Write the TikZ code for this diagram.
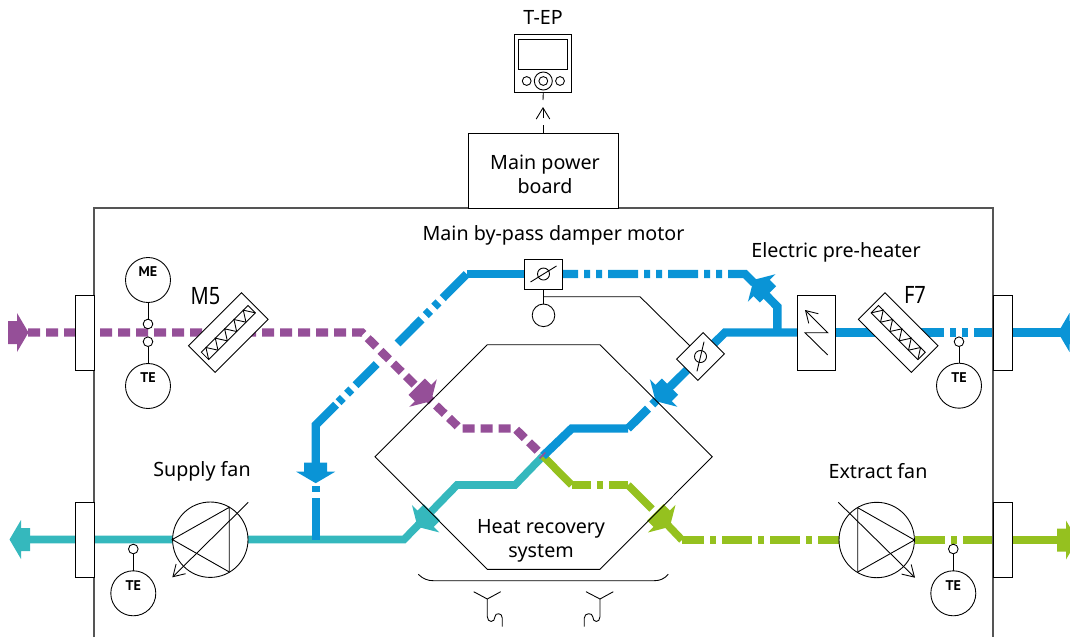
\documentclass[tikz,border=0pt]{standalone}
\usepackage{fontspec}
\setmainfont{Noto Sans}
\newfontfamily\tagfont{PT Sans}
\definecolor{ductblue}{HTML}{0A94D6}
\definecolor{ductpurple}{HTML}{954F98}
\definecolor{ductteal}{HTML}{35B8BD}
\definecolor{ductgreen}{HTML}{95C11F}
\definecolor{wallgrey}{HTML}{555555}
\usetikzlibrary{arrows.meta,backgrounds}
\tikzset{
  >={Straight Barb[length=2.8mm,width=3.4mm]},
  lbl/.style={font=\fontsize{14}{17}\selectfont,align=center,inner sep=0pt},
  biglbl/.style={font=\fontsize{17}{17}\selectfont,inner sep=0pt,transform shape,xscale=.84},
  tag/.style={font=\fontsize{10}{10}\selectfont\tagfont\bfseries,inner sep=0pt},
  sym/.style={draw=black,line width=0.22mm},
  wallbox/.style={sym,fill=white,minimum width=4.75mm,minimum height=18.75mm,inner sep=0pt,outer sep=0pt},
  bigsens/.style={sym,circle,minimum size=11.25mm,inner sep=0pt,outer sep=0pt},
  smallsens/.style={sym,circle,fill=white,minimum size=2.4mm,inner sep=0pt,outer sep=0pt},
  fanbody/.style={sym,circle,fill=white,minimum size=18.85mm,inner sep=0pt,outer sep=0pt},
  filterbox/.style={sym,fill=white,minimum width=18.75mm,minimum height=9.4mm,inner sep=0pt,outer sep=0pt},
  damperbox/.style={sym,fill=white,minimum width=9.4mm,minimum height=7.5mm,inner sep=0pt,outer sep=0pt},
  duct/.style={line width=2.1mm,line join=miter},
  thinduct/.style={line width=1.9mm,line join=miter},
  longdot/.style={dash pattern=on 8.5mm off 1.5mm on 1.5mm off 1.5mm on 1.5mm off 1.5mm},
  topdot/.style={dash pattern=on 7.5mm off 1.5mm on 1.5mm off 1.5mm on 1.5mm off 1.5mm},
  greendot/.style={dash pattern=on 7.5mm off 1.5mm on 1.5mm off 1.5mm},
  purpledash/.style={dash pattern=on 3mm off 1.5mm},
  flowtip/.pic={\fill[pic actions] (-9,-11.5) -- (0,-11.5) -- (0,-19.5) -- (11.5,0) -- (0,19.5) -- (0,11.5) -- (-9,11.5) -- cycle;},
  filtersym/.pic={
    \draw[sym] (-33,-5.2) rectangle (33,5.2);
    \foreach \i in {0,...,4}
      \draw[sym] ({-33+13.2*\i},5.2) -- ({-26.4+13.2*\i},-5.2) -- ({-19.8+13.2*\i},5.2);
  },
  dampersym/.pic={
    \draw[sym] (0,0) circle (6);
    \draw[sym] (-13,8) -- (13,-8);
  },
}
\begin{document}
\begin{tikzpicture}[x=0.25mm,y=-0.25mm]
\clip (0,0) rectangle (1070,637);
% casing
\draw[wallgrey,line width=0.3mm] (94,637) -- (94,208) -- (993,208) -- (993,637);
\node[sym,fill=white,minimum width=37.5mm,minimum height=18.75mm,inner sep=0pt,outer sep=0pt] (board) at (543,170.5) {};
\node[lbl] (boardtext) at (545,174) {Main power\\board};
\node[lbl] (teptext) at (543,17) {T-EP};
\node[sym,minimum width=14.2mm,minimum height=14.5mm,inner sep=0pt,outer sep=0pt] (tep) at (543.3,63) {};
\node[sym,minimum width=12.2mm,minimum height=7.5mm,inner sep=0pt,outer sep=0pt] (tepscreen) at (543.3,54) {};
\node[sym,circle,minimum size=4.5mm,inner sep=0pt] (tepknob) at (543.3,81) {};
\node[sym,circle,minimum size=2.2mm,inner sep=0pt] (tepknobin) at (543.3,81) {};
\node[sym,circle,minimum size=2.2mm,inner sep=0pt] (tepleft) at (526.7,81) {};
\node[sym,circle,minimum size=2.2mm,inner sep=0pt] (tepright) at (560,81) {};
\coordinate (tepa) at (543,125);
\coordinate (tepb) at (543,118);
\coordinate (tepc) at (543,107);
\coordinate (tepd) at (543,100);
\draw[sym] (board.north) -- (tepa);
\draw[sym,->] (tepb) -- (tepc);
\draw[sym] (tepd) -- (tep.south);
% wall units
\node[wallbox] (wallul) at (84.5,332.5) {};
\node[wallbox] (walldl) at (84.5,539.8) {};
\node[wallbox] (wallur) at (1002.5,332.5) {};
\node[wallbox] (walldr) at (1002.5,539.8) {};
% components on the ducts
\node[filterbox,rotate=45] (filterm) at (228.3,332.5) {};
\pic[rotate=45] at (filterm) {filtersym};
\node[filterbox,rotate=-45] (filterf) at (898.2,332.5) {};
\pic[rotate=-45] at (filterf) {filtersym};
\node[sym,fill=white,minimum width=9.5mm,minimum height=18.75mm,inner sep=0pt,outer sep=0pt] (heater) at (816,332.5) {};
\coordinate (heata) at (827.7,355);
\coordinate (heatb) at (805,332.7);
\coordinate (heatc) at (827.7,332.7);
\coordinate (heatd) at (805,310);
\draw[sym,->] (heata) -- (heatb) -- (heatc) -- (heatd);
\node[damperbox] (dampertop) at (543.5,274) {};
\pic at (dampertop) {dampersym};
\node[damperbox,rotate=45] (damperside) at (700.5,356.5) {};
\pic[rotate=45] at (damperside) {dampersym};
\node[sym,circle,minimum size=5.65mm,inner sep=0pt,outer sep=0pt] (dampermotor) at (543.5,315.3) {};
\coordinate (linka) at (543.5,296.7);
\coordinate (linkb) at (640,296.7);
\draw[sym] (dampertop.south) -- (dampermotor.north);
\draw[sym] (linka) -- (linkb) -- (damperside.north);
% fans
\node[fanbody] (fansup) at (210.3,539.7) {};
\coordinate (supa) at (172.3,539.5);
\coordinate (supb) at (229.3,507.3);
\coordinate (supc) at (229.3,572);
\coordinate (supd) at (248.3,502.3);
\coordinate (supe) at (172.3,577.3);
\draw[sym] (supa) -- (supb) -- (supc) -- cycle;
\draw[sym,->] (supd) -- (supe);
\node[fanbody] (fanext) at (876.7,540) {};
\coordinate (exta) at (914.5,540);
\coordinate (extb) at (857.7,507.7);
\coordinate (extc) at (857.7,572);
\coordinate (extd) at (838.3,502.3);
\coordinate (exte) at (915,577.7);
\draw[sym] (exta) -- (extb) -- (extc) -- cycle;
\draw[sym,->] (extd) -- (exte);
% sensors
\node[bigsens] (memotor) at (148,280) {};
\node[tag] (metext) at ([yshift=2mm]memotor) {ME};
\node[smallsens] (mesmall) at (148,324) {};
\draw[sym] (memotor) -- (mesmall);
\foreach \n/\x/\y/\s in {tea/148/386/341.7,teb/133.3/593.3/549,tec/959/385.7/341.7,ted/953.3/593.3/549}{
  \node[bigsens] (\n) at (\x,\y) {};
  \node[tag] (\n text) at ([yshift=2mm]\n) {TE};
  \node[smallsens] (\n small) at (\x,\s) {};
  \draw[sym] (\n) -- (\n small);
}
% heat recovery block
\coordinate (hexa) at (487.3,344.7);
\coordinate (hexb) at (600,344.7);
\coordinate (hexc) at (712.3,456.7);
\coordinate (hexd) at (600,569.3);
\coordinate (hexe) at (487.3,569.3);
\coordinate (hexf) at (375,456.7);
\draw[sym] (hexa) -- (hexb) -- (hexc) -- (hexd) -- (hexe) -- (hexf) -- cycle;
\coordinate (bracea) at (418.3,574.3);
\coordinate (braceb) at (433.3,580.7);
\coordinate (bracec) at (654,580.7);
\coordinate (braced) at (668.3,574.3);
\draw[sym] (bracea) .. controls (423,579) and (428,580.7) .. (braceb) -- (bracec) .. controls (660,580.7) and (664,579) .. (braced);
% drains
\draw[sym] (473.7,591.7) -- (487.3,599) -- (500.7,591.7);
\draw[sym] (487.3,599) -- (487.3,616.7) .. controls (487.3,623) and (495,623) .. (495,616.7) .. controls (495,612.5) and (502.3,612.5) .. (502.3,618) -- (502.3,626.7);
\draw[sym] (586,591.7) -- (600,599) -- (613.3,591.7);
\draw[sym] (600,599) -- (600,616.7) .. controls (600,623) and (592.7,623) .. (592.7,616.7) .. controls (592.7,612.5) and (584.3,612.5) .. (584.3,618) -- (584.3,626.7);
% labels
\node[lbl] (dampertext) at (553.5,235) {Main by-pass damper motor};
\node[lbl] (heatertext) at (836,252) {Electric pre-heater};
\node[biglbl] (mtext) at (205.5,296) {M5};
\node[biglbl] (ftext) at (915,295) {F7};
\node[lbl] (suptext) at (202,471) {Supply fan};
\node[lbl] (exttext) at (878,471) {Extract fan};
\node[lbl] (hextext) at (541,541) {Heat recovery\\system};
% ducts
\begin{scope}[on background layer]
\coordinate (mid) at (543,456);
% teal
\coordinate (ta) at (29,539.5);
\coordinate (tb) at (404,539.5);
\coordinate (tc) at (457,485);
\coordinate (td) at (515,485);
\draw[thinduct,ductteal] (ta) -- (tb) -- (tc) -- (td) -- (mid);
\pic[rotate=225,fill=ductteal] at (425.7,518.7) {flowtip};
\pic[rotate=180,fill=ductteal] at (21,539.5) {flowtip};
% green
\coordinate (ga) at (571.7,485);
\coordinate (gb) at (628,485);
\coordinate (gc) at (652,509);
\coordinate (gd) at (661.7,518.7);
\coordinate (ge) at (682,540);
\coordinate (gf) at (840,540);
\coordinate (gg) at (915,540);
\coordinate (gh) at (1003,540);
\coordinate (gi) at (1060,540);
\draw[thinduct,ductgreen] (mid) -- (ga);
\draw[thinduct,ductgreen,greendot,dash phase=2.7mm] (ga) -- (gb);
\draw[thinduct,ductgreen] (gb) -- (gc);
\draw[thinduct,ductgreen] (gd) -- (ge);
\draw[thinduct,ductgreen,greendot,dash phase=2mm] (ge) -- (gf);
\draw[thinduct,ductgreen,greendot] (gg) -- (gh);
\draw[thinduct,ductgreen] (gh) -- (gi);
\pic[rotate=-45,fill=ductgreen] at (gd) {flowtip};
\pic at (1066,540) [fill=ductgreen] {flowtip};
% blue
\coordinate (ba) at (466.7,274);
\coordinate (bb) at (745,274);
\coordinate (bc) at (762,291);
\coordinate (bd) at (777.3,306.7);
\coordinate (be) at (777.3,332.5);
\coordinate (bf) at (725,332.5);
\coordinate (bg) at (663.7,393);
\coordinate (bh) at (656.5,400.2);
\coordinate (bi) at (628,428.5);
\coordinate (bj) at (571.7,428.5);
\coordinate (bk) at (548,274);
\coordinate (bl) at (914,332.5);
\coordinate (bm) at (1003,332.5);
\coordinate (bn) at (1070,332.5);
\coordinate (bo) at (395.5,345.5);
\coordinate (bp) at (376.7,364);
\coordinate (bq) at (336,404.7);
\coordinate (br) at (315.7,425);
\coordinate (bs) at (315.7,463);
\coordinate (bt) at (315.7,486);
\coordinate (bu) at (315.7,540);
\draw[duct,ductblue] (ba) -- (bk);
\draw[duct,ductblue,topdot] (bk) -- (bb) -- (bc);
\draw[duct,ductblue] (bc) -- (bd) -- (be);
\draw[duct,ductblue] (heater.center) -- (bf) -- (bg);
\draw[duct,ductblue] (heater.center) -- (filterf.center);
\draw[duct,ductblue,topdot] (bl) -- (bm);
\draw[duct,ductblue] (bm) -- (bn);
\draw[duct,ductblue,dash pattern=on 1.5mm off 1.5mm on 12mm] (bh) -- (bi);
\draw[duct,ductblue] (bi) -- (bj) -- (mid);
\draw[duct,ductblue,longdot] (ba) -- (bo);
\draw[duct,ductblue,longdot,dash phase=1mm] (bp) -- (bq);
\draw[duct,ductblue] (bq) -- (br) -- (bs);
\draw[duct,ductblue,dash pattern=on 1.5mm off 1.5mm on 11mm] (bt) -- (bu);
\pic[rotate=135,fill=ductblue] at (761.7,288) {flowtip};
\pic[rotate=225,fill=ductblue] at (bg) {flowtip};
\pic[rotate=-90,fill=ductblue] at (315.7,471.7) {flowtip};
\pic[rotate=180,fill=ductblue] at (1069.5,332.5) {flowtip};
% purple
\coordinate (pa) at (28,332.5);
\coordinate (pb) at (362,332.5);
\coordinate (pc) at (423,393);
\coordinate (pd) at (460,428.5);
\coordinate (pe) at (515,428.5);
\draw[duct,ductpurple,purpledash] (pa) -- (pb) -- (pc);
\draw[duct,ductpurple,purpledash] (pc) -- (pd) -- (pe) -- (mid);
\pic[fill=ductpurple] at (17,332.5) {flowtip};
\pic[rotate=-45,fill=ductpurple] at (pc) {flowtip};
\end{scope}
\end{tikzpicture}
\end{document}
